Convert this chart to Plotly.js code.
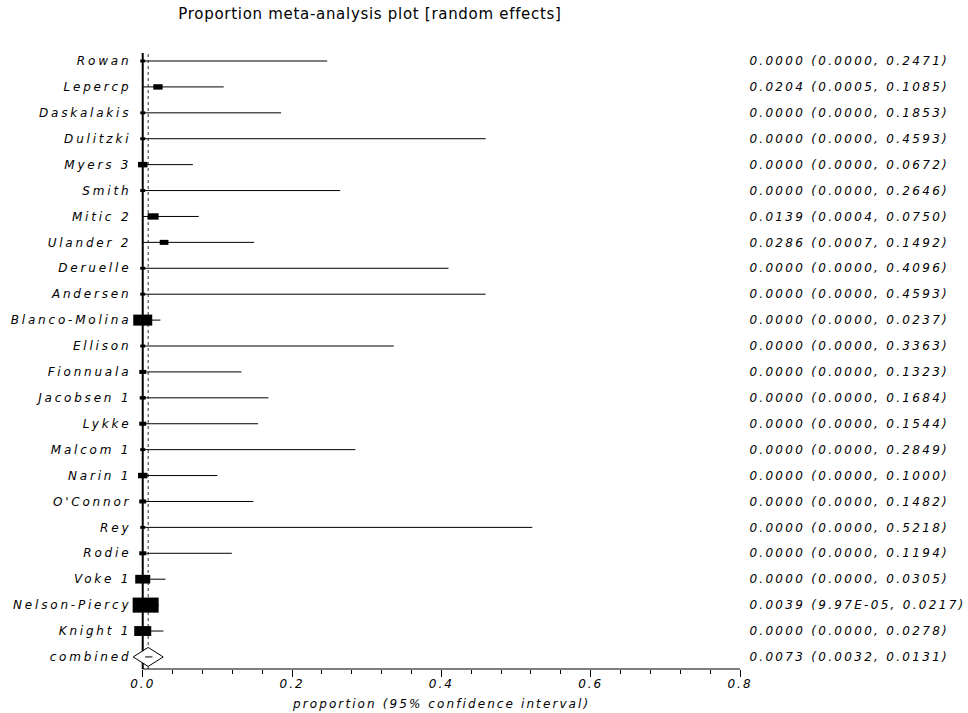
<!DOCTYPE html>
<html>
<head>
<meta charset="utf-8">
<script src="https://cdn.plot.ly/plotly-3.0.1.min.js"></script>
<style>
  body { margin: 0; background: #fff; }
  #chart { width: 968px; height: 713px; }
  .ytick text { letter-spacing: 2.8px !important; }
  .y2tick text { letter-spacing: 2.3px !important; }
  .x2tick text { letter-spacing: 2px !important; }
  .gtitle { letter-spacing: 0.7px !important; }
  .annotation-text { letter-spacing: 2.1px !important; }
</style>
</head>
<body>
<div id="chart"></div>
<script>
// ---- data ----
const studies = ["Rowan","Lepercp","Daskalakis","Dulitzki","Myers 3","Smith","Mitic 2","Ulander 2","Deruelle","Andersen","Blanco-Molina","Ellison","Fionnuala","Jacobsen 1","Lykke","Malcom 1","Narin 1","O'Connor","Rey","Rodie","Voke 1","Nelson-Piercy","Knight 1"];
const proportion = [0,0.0204,0,0,0,0,0.0139,0.0286,0,0,0,0,0,0,0,0,0,0,0,0,0,0.0039,0];
const lowerCI = [0,0.0005,0,0,0,0,0.0004,0.0007,0,0,0,0,0,0,0,0,0,0,0,0,0,9.97e-5,0];
const upperCI = [0.2471,0.1085,0.1853,0.4593,0.0672,0.2646,0.0750,0.1492,0.4096,0.4593,0.0237,0.3363,0.1323,0.1684,0.1544,0.2849,0.1000,0.1482,0.5218,0.1194,0.0305,0.0217,0.0278];
const weights = [3.7,12.8,3.7,3.7,13.4,3.7,17.9,11.2,3.7,3.7,53.4,3.7,7.2,5.3,7.2,3.7,13.4,7.2,3.7,7.2,33.3,100,42.8];
const pooledLabel = "combined";
const pooled = 0.0073, pooledLower = 0.0032, pooledUpper = 0.0131;
const xTicks = [0, 0.2, 0.4, 0.6, 0.8];
const xTitle = "proportion (95% confidence interval)";
const chartTitle = "Proportion meta-analysis plot [random effects]";

// ---- derived ----
const labels = studies.concat([pooledLabel]);
const P = proportion.concat([pooled]);
const L = lowerCI.concat([pooledLower]);
const U = upperCI.concat([pooledUpper]);
const rows = labels.map((_, i) => i);

function fmt(v) {
  if (v > 0 && v < 0.0001) {
    const parts = v.toExponential(2).split('e');
    const n = parseInt(parts[1], 10);
    return parts[0] + 'E' + (n < 0 ? '-' : '+') + String(Math.abs(n)).padStart(2, '0');
  }
  return v.toFixed(4);
}
const valueText = rows.map(i => fmt(P[i]) + ' (' + fmt(L[i]) + ', ' + fmt(U[i]) + ')');

const ciX = [], ciY = [];
rows.forEach(i => { ciX.push(L[i], U[i], null); ciY.push(i, i, null); });

const xMin = -0.0358, xMax = xTicks[xTicks.length - 1];
const yRange = [23.466, -0.309];
const font = 'DejaVu Sans';
const tickFont = { family: font, size: 12, style: 'italic', color: '#000' };

const traces = [
  { type: 'scatter', mode: 'lines', x: ciX, y: ciY, line: { color: '#000', width: 1 },
    hoverinfo: 'skip', showlegend: false, cliponaxis: false },
  { type: 'scatter', mode: 'markers', x: P, y: rows, xaxis: 'x2', yaxis: 'y2',
    marker: { opacity: 0, size: 1 }, hoverinfo: 'skip', showlegend: false }
];

const shapes = [];
shapes.push({ type: 'line', xref: 'x', yref: 'paper', x0: 0, x1: 0, y0: 0, y1: 1,
  line: { color: '#000', width: 2 }, layer: 'below' });
shapes.push({ type: 'line', xref: 'x', yref: 'paper', x0: pooled, x1: pooled, y0: 0, y1: 1,
  line: { color: '#333', width: 1, dash: 'dot' }, layer: 'below' });
studies.forEach((s, i) => {
  const w = 26 * Math.sqrt(weights[i] / 100);
  const h = w * 0.58;
  shapes.push({ type: 'rect', xref: 'x', yref: 'y', xsizemode: 'pixel', ysizemode: 'pixel',
    xanchor: proportion[i], yanchor: i, x0: -w / 2, x1: w / 2, y0: -h / 2, y1: h / 2,
    fillcolor: '#000', line: { width: 0 }, layer: 'below' });
});
shapes.push({ type: 'path', xref: 'x', yref: 'y', xsizemode: 'pixel', ysizemode: 'pixel',
  xanchor: pooled, yanchor: studies.length,
  path: 'M -15,0 L 0,9.5 L 15,0 L 0,-9.5 Z',
  fillcolor: '#fff', line: { color: '#000', width: 1 }, layer: 'below' });
shapes.push({ type: 'line', xref: 'x', yref: 'paper', x0: xTicks[0], x1: xMax, y0: 0, y1: 0,
  line: { color: '#000', width: 1 }, layer: 'above' });

const layout = {
  width: 968, height: 713,
  margin: { l: 116, r: 228, t: 53, b: 44 },
  paper_bgcolor: '#fff', plot_bgcolor: '#fff',
  showlegend: false,
  title: { text: chartTitle, font: { family: font, size: 15, color: '#000' },
    xref: 'container', x: 370 / 968, xanchor: 'center',
    yref: 'container', y: 1 - 14 / 713, yanchor: 'middle' },
  xaxis: {
    range: [xMin, xMax], showgrid: false, zeroline: false, showline: false,
    tickmode: 'array', tickvals: xTicks, showticklabels: false,
    ticks: 'outside', ticklen: 7, tickwidth: 1, tickcolor: '#000',
    minor: { ticks: 'outside', ticklen: 4, tickwidth: 1, tickcolor: '#000', tick0: 0, dtick: 0.04, showgrid: false },
    fixedrange: true
  },
  xaxis2: {
    range: [xMin, xMax], overlaying: 'x', anchor: 'free', position: 0, side: 'bottom',
    showgrid: false, zeroline: false, showline: false,
    tickmode: 'array', tickvals: xTicks, ticktext: xTicks.map(v => v.toFixed(1)),
    ticks: 'outside', ticklen: 4, tickcolor: 'rgba(0,0,0,0)',
    tickfont: tickFont, fixedrange: true
  },
  yaxis: {
    range: yRange, anchor: 'free', position: (0 - xMin) / (xMax - xMin),
    showgrid: false, zeroline: false, showline: false,
    tickmode: 'array', tickvals: rows, ticktext: labels,
    ticks: 'outside', ticklen: 9, tickcolor: 'rgba(0,0,0,0)',
    tickfont: tickFont, fixedrange: true
  },
  yaxis2: {
    range: yRange, overlaying: 'y', side: 'right', anchor: 'free', position: 1,
    showgrid: false, zeroline: false, showline: false,
    tickmode: 'array', tickvals: rows, ticktext: valueText,
    ticks: 'outside', ticklen: 6, tickcolor: 'rgba(0,0,0,0)',
    tickfont: tickFont, fixedrange: true
  },
  shapes: shapes,
  annotations: [{
    text: xTitle, xref: 'x', x: (xTicks[0] + xMax) / 2, xanchor: 'center',
    yref: 'paper', y: 0, yanchor: 'middle', yshift: -35, showarrow: false,
    font: tickFont
  }]
};

Plotly.newPlot('chart', traces, layout, { displayModeBar: false, staticPlot: true });
</script>
</body>
</html>
